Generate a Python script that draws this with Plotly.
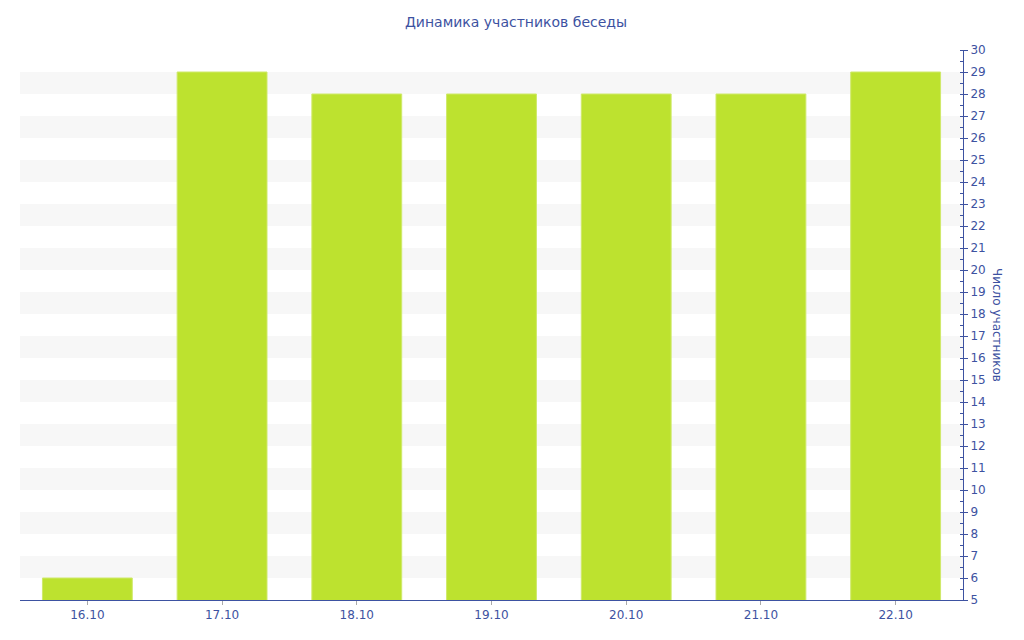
import plotly.graph_objects as go

dates = ["16.10", "17.10", "18.10", "19.10", "20.10", "21.10", "22.10"]
members = [6, 29, 28, 28, 28, 28, 29]
y_ticks = list(range(5, 31))

BLUE = "#3d52a1"
BAR = "#bde22f"
FONT = "DejaVu Sans, Verdana, sans-serif"

fig = go.Figure()
fig.add_trace(
    go.Bar(
        x=dates,
        y=members,
        marker=dict(color=BAR, line=dict(color="#cfe96a", width=1)),
        hoverinfo="x+y",
    )
)

# alternating background bands (even -> odd)
shapes = []
for v in y_ticks[1:-1:2]:
    shapes.append(
        dict(
            type="rect",
            xref="paper",
            yref="y",
            x0=0,
            x1=1,
            y0=v,
            y1=v + 1,
            fillcolor="#f7f7f7",
            line=dict(width=0),
            layer="below",
        )
    )

# page body has an 8px margin, so the figure is a bit smaller
fig.update_layout(
    width=1016,
    height=632,
    paper_bgcolor="white",
    plot_bgcolor="white",
    font=dict(family=FONT, size=12, color=BLUE),
    title=dict(
        text="Динамика участников беседы",
        x=0.5,
        xanchor="center",
        y=0.978,
        yanchor="middle",
        font=dict(size=14, color=BLUE, family=FONT),
    ),
    margin=dict(l=12, r=61, t=42, b=40),
    bargap=0.333,
    showlegend=False,
    shapes=shapes,
    xaxis=dict(
        showgrid=False,
        showline=True,
        linecolor=BLUE,
        linewidth=1,
        ticks="outside",
        ticklen=4,
        tickcolor="#aaaaaa",
        tickfont=dict(size=12, color=BLUE),
    ),
    yaxis=dict(
        side="right",
        range=[5, 30],
        tickmode="array",
        tickvals=y_ticks,
        showgrid=False,
        zeroline=False,
        showline=True,
        linecolor=BLUE,
        linewidth=1,
        ticks="outside",
        ticklen=4,
        tickcolor=BLUE,
        tickfont=dict(size=12, color=BLUE),
        minor=dict(dtick=0.5, ticks="inside", ticklen=3, tickcolor=BLUE),
    ),
    annotations=[
        dict(
            text="Число участников",
            textangle=90,
            xref="paper",
            yref="paper",
            x=1.0,
            xshift=34,
            y=0.5,
            xanchor="center",
            yanchor="middle",
            showarrow=False,
            font=dict(size=12, color=BLUE, family=FONT),
        )
    ],
)

fig.write_html("out.html")
